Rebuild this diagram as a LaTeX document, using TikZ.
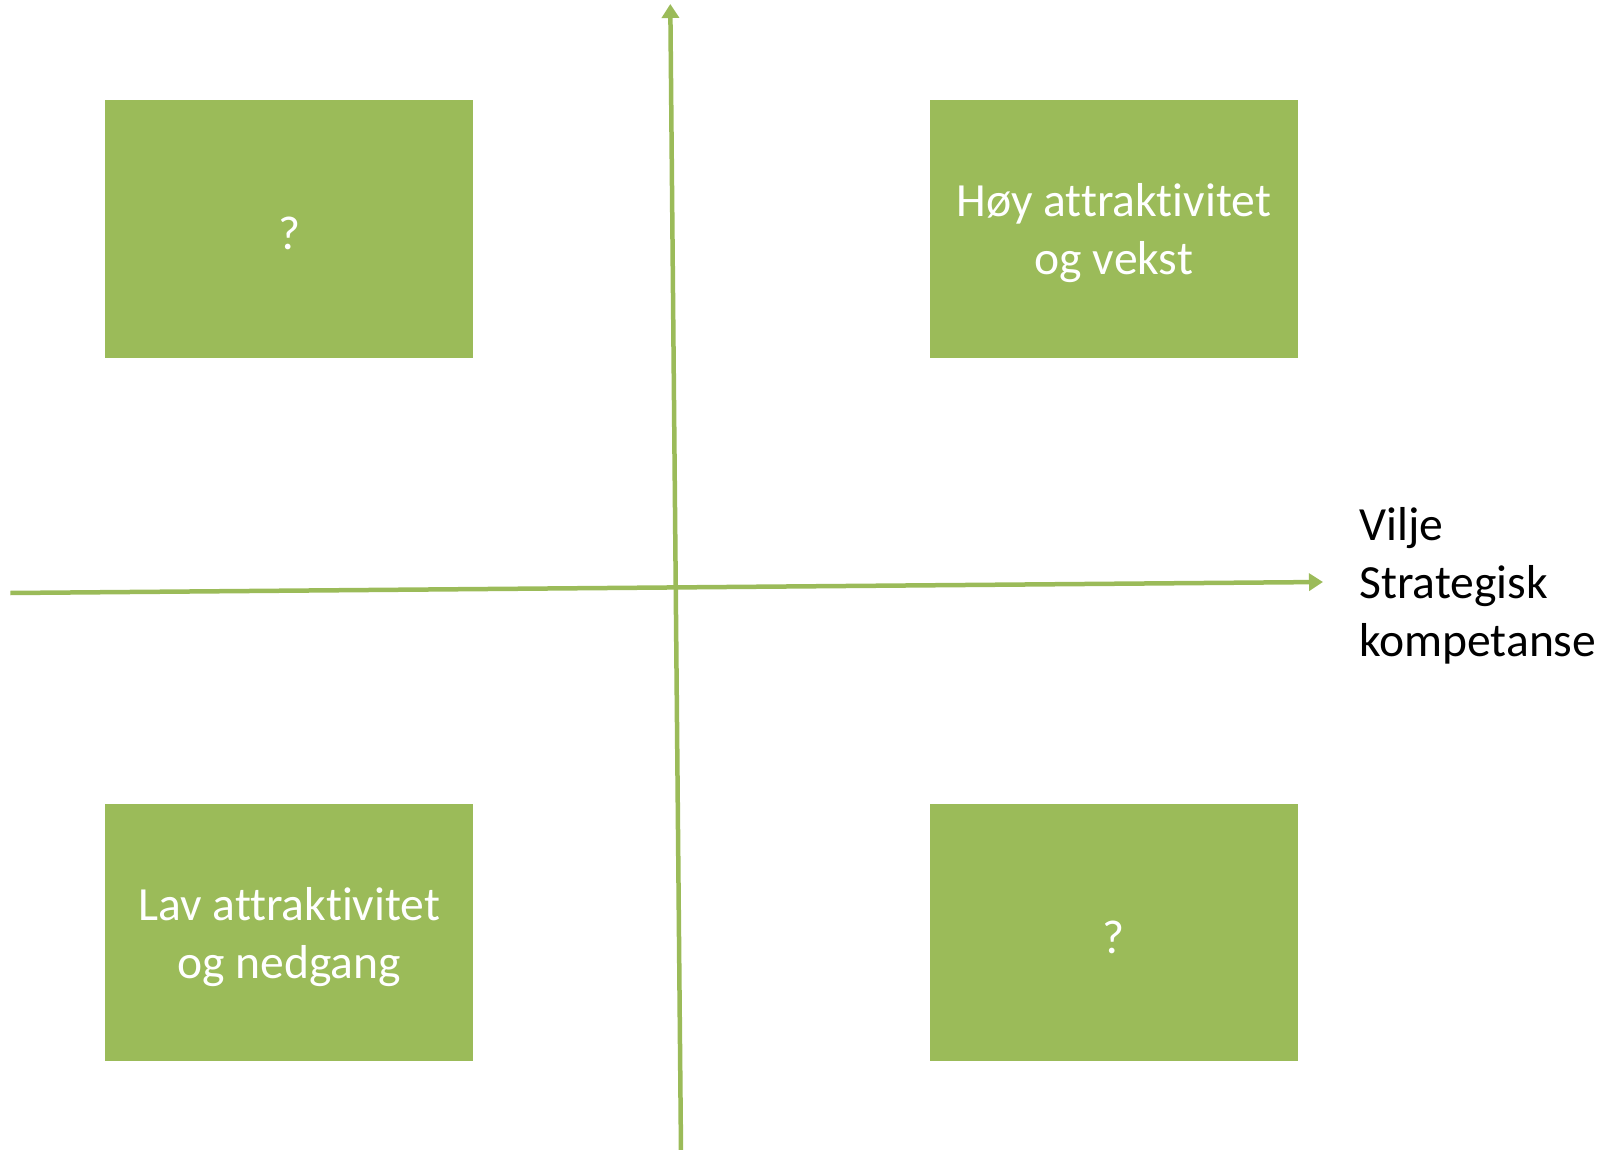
\documentclass[tikz,border=0pt]{standalone}
\usepackage{fontspec}
\setmainfont[Ligatures=NoCommon]{Carlito}
\usetikzlibrary{arrows.meta}
\definecolor{boxgreen}{HTML}{9BBB59}
\tikzset{
  quad/.style={fill=boxgreen, draw=none, minimum width=367.8pt, minimum height=257.3pt, inner sep=0pt},
  quadtext/.style={text=white, inner sep=0pt, align=center, yshift=-4.5pt, font=\fontsize{47.6}{58}\selectfont},
  axis/.style={draw=boxgreen, line width=4.5pt, -{Triangle[length=14pt,width=17pt]}},
  lbl/.style={text=black, align=left, inner sep=0pt, font=\fontsize{47.6}{58}\selectfont}
}
\begin{document}
\begin{tikzpicture}[x=1pt,y=-1pt]
\useasboundingbox (0,0) rectangle (1620,1150);
\node[quad] (tl) at (289.3,228.9) {};
\node[quad] (tr) at (1113.8,228.9) {};
\node[quad] (bl) at (289.3,932.5) {};
\node[quad] (br) at (1113.8,932.5) {};
\node[quadtext] (tlt) at (tl) {?};
\node[quadtext] (trt) at (tr) {Høy attraktivitet\\og vekst};
\node[quadtext] (blt) at (bl) {Lav attraktivitet\\og nedgang};
\node[quadtext] (brt) at (br) {?};
\coordinate (vb) at (681,1152);
\coordinate (vt) at (670.3,4);
\coordinate (hl) at (10.3,593);
\coordinate (hr) at (1323,582);
\draw[axis] (vb) -- (vt);
\draw[axis] (hl) -- (hr);
\node[lbl, anchor=west] (lab) at (1359,586) {Vilje\\Strategisk\\kompetanse};
\end{tikzpicture}
\end{document}
